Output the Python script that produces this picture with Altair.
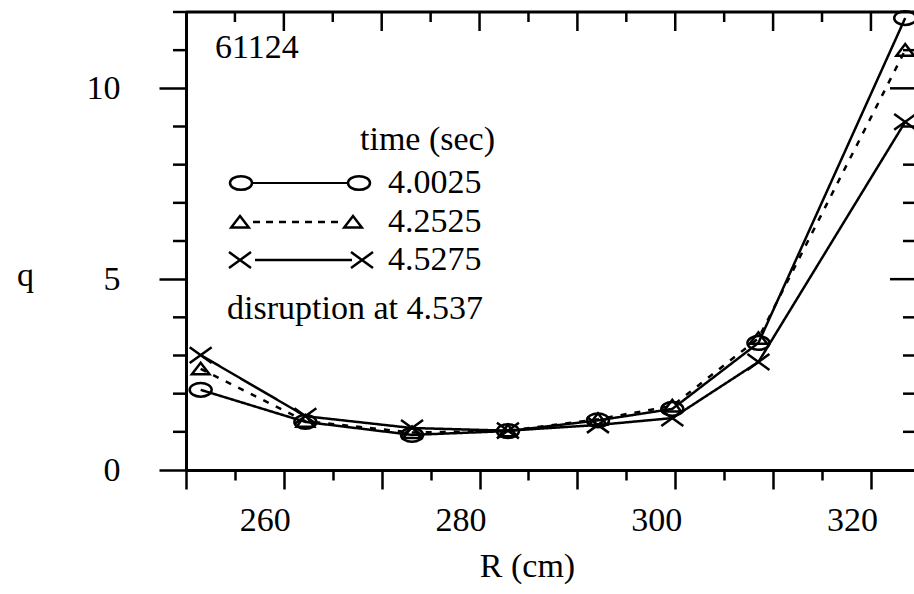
import altair as alt
import pandas as pd

# ---- data ----
R_cm = [251.5, 262.2, 273.1, 282.9, 292.1, 299.7, 308.5, 323.5]
q_40025 = [2.10, 1.26, 0.92, 1.02, 1.30, 1.60, 3.33, 11.84]
q_42525 = [2.65, 1.28, 0.98, 1.03, 1.33, 1.68, 3.45, 11.00]
q_45275 = [3.01, 1.41, 1.10, 1.03, 1.18, 1.36, 2.83, 9.12]
series_names = ["4.0025", "4.2525", "4.5275"]

x_ticks = list(range(250, 325, 5))
x_labels = [260, 280, 300, 320]
y_ticks = list(range(0, 13))
y_labels = [0, 5, 10]

shot_label = "61124"
legend_title = "time (sec)"
note = "disruption at 4.537"

# ---- styling ----
FONT = "Liberation Serif"
FS = 34
W, H = 728, 458
ELLIPSE = "M-1,0A1,0.62,0,1,1,1,0A1,0.62,0,1,1,-1,0Z"
TRI = "M-0.8,0.5L0.8,0.5L0,-0.55Z"
XMARK = "M-1,-0.72L1,0.72M-1,0.72L1,-0.72"

rows = []
for name, vals in zip(series_names, [q_40025, q_42525, q_45275]):
    for r, q in zip(R_cm, vals):
        rows.append({"R": r, "q": q, "series": name})
df = pd.DataFrame(rows)

x_scale = alt.Scale(domain=[250, 324.4], nice=False, zero=False)
y_scale = alt.Scale(domain=[0, 12], nice=False, zero=False)

x_axis = alt.Axis(
    values=x_ticks,
    labelExpr=f"indexof({x_labels}, datum.value) >= 0 ? datum.label : ''",
    tickSize={"condition": {"test": "datum.value % 10 === 0", "value": 19}, "value": 10},
    tickWidth=2.5, tickColor="black",
    domainWidth=3, domainColor="black",
    labelFont=FONT, labelFontSize=FS, labelColor="black",
    labelPadding=41, labelBaseline="alphabetic", labelOffset=-19,
    labelFlush=False, labelOverlap=False,
    grid=False,
    title="R (cm)", titleFont=FONT, titleFontSize=FS, titleFontWeight="normal",
    titleColor="black", titleX=341, titleY=106, titleAlign="center",
    titleBaseline="alphabetic",
)
y_axis = alt.Axis(
    values=y_labels,
    tickSize=27,
    tickWidth=2.5, tickColor="black",
    domainWidth=3, domainColor="black",
    labelFont=FONT, labelFontSize=FS, labelColor="black",
    labelPadding=39, labelFlush=False, labelOverlap=False,
    grid=False,
    title="q", titleFont=FONT, titleFontSize=FS, titleFontWeight="normal",
    titleColor="black", titleAngle=0, titleX=-161, titleY=273,
    titleAlign="center", titleBaseline="alphabetic",
)

base = alt.Chart(df)
lines = base.mark_line(color="black", strokeWidth=2.5).encode(
    x=alt.X("R:Q", scale=x_scale, axis=x_axis),
    y=alt.Y("q:Q", scale=y_scale, axis=y_axis),
    strokeDash=alt.StrokeDash("series:N",
                              scale=alt.Scale(domain=series_names, range=[[1, 0], [6, 8], [1, 0]]),
                              legend=None),
)
points = base.mark_point(color="black", filled=False, strokeWidth=2.5, size=484, opacity=1).encode(
    x=alt.X("R:Q", scale=x_scale),
    y=alt.Y("q:Q", scale=y_scale),
    shape=alt.Shape("series:N",
                    scale=alt.Scale(domain=series_names, range=[ELLIPSE, TRI, XMARK]),
                    legend=None),
)

one = pd.DataFrame({"k": [0]})

# frame: top border, minor left ticks, inward ticks on the top and right
top_border = alt.Chart(one).mark_rule(color="black", strokeWidth=3).encode(
    x=alt.value(0), x2=alt.value(W), y=alt.value(0))

top_major = [v for v in x_ticks if v % 10 == 0 and v > 250]
top_minor = [v for v in x_ticks if v % 10 != 0]
left_minor = [v for v in y_ticks if v % 5 != 0]
right_major = [v for v in y_ticks if v % 5 == 0 and 0 < v < 12]
right_minor = [v for v in y_ticks if v % 5 != 0 and v < 12]

top_t1 = alt.Chart(pd.DataFrame({"R": top_major})).mark_rule(color="black", strokeWidth=2.5).encode(
    x=alt.X("R:Q", scale=x_scale), y=alt.value(0), y2=alt.value(19))
top_t2 = alt.Chart(pd.DataFrame({"R": top_minor})).mark_rule(color="black", strokeWidth=2.5).encode(
    x=alt.X("R:Q", scale=x_scale), y=alt.value(0), y2=alt.value(10))
left_t = alt.Chart(pd.DataFrame({"q": left_minor})).mark_rule(color="black", strokeWidth=2.5).encode(
    y=alt.Y("q:Q", scale=y_scale), x=alt.value(-13), x2=alt.value(0))
right_t1 = alt.Chart(pd.DataFrame({"q": right_major})).mark_rule(color="black", strokeWidth=2.5).encode(
    y=alt.Y("q:Q", scale=y_scale), x=alt.value(W - 24), x2=alt.value(W))
right_t2 = alt.Chart(pd.DataFrame({"q": right_minor})).mark_rule(color="black", strokeWidth=2.5).encode(
    y=alt.Y("q:Q", scale=y_scale), x=alt.value(W - 11), x2=alt.value(W))


def label(txt, x, y):
    return alt.Chart(one).mark_text(
        text=txt, font=FONT, fontSize=FS, color="black", align="left", baseline="alphabetic"
    ).encode(x=alt.value(x), y=alt.value(y))


texts = [
    label(shot_label, 29, 46),
    label(legend_title, 174, 138),
    label(series_names[0], 202, 181),
    label(series_names[1], 202, 220),
    label(series_names[2], 202, 258),
    label(note, 41, 307),
]

# hand-drawn style legend (marker - line - marker)
leg_rows = [(171, ELLIPSE, [1, 0], 55, 173, 66, 162, 1.8),
            (210, TRI, [7, 6], 54, 167, 67, 154, 2.5),
            (248, XMARK, [1, 0], 54, 176, 69, 166, 2.5)]
legend_layers = []
for yy, shp, dash, xa, xb, l1, l2, lw in leg_rows:
    legend_layers.append(alt.Chart(one).mark_rule(color="black", strokeWidth=lw, strokeDash=dash).encode(
        x=alt.value(l1), x2=alt.value(l2), y=alt.value(yy)))
    for xm in (xa, xb):
        legend_layers.append(alt.Chart(one).mark_point(
            shape=shp, size=484, filled=False, color="black", strokeWidth=2.5, opacity=1
        ).encode(x=alt.value(xm), y=alt.value(yy)))

chart = alt.layer(
    lines, points, top_border, top_t1, top_t2, left_t, right_t1, right_t2, *texts, *legend_layers
).properties(
    width=W, height=H,
    autosize=alt.AutoSizeParams(type="none"),
    padding={"left": 186, "top": 12, "right": 0, "bottom": 124},
).configure_view(stroke=None).configure(background="white")

chart.save("out.html", embed_options={"renderer": "svg", "actions": False})
